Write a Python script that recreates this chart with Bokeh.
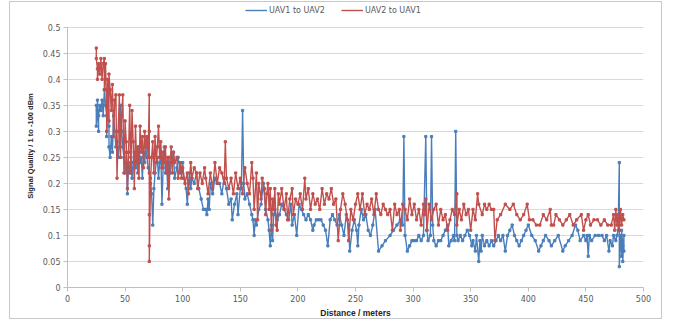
from bokeh.plotting import figure
from bokeh.models import Legend, LegendItem, FixedTicker, Range1d
from bokeh.embed import file_html
from bokeh.resources import INLINE

# ---- data ----
blue_x = [25, 25, 26, 26, 27, 27, 28, 29, 30, 31, 32, 33, 34, 34, 35, 36, 36, 37, 38, 39,
          40, 41, 42, 43, 44, 45, 46, 47, 48, 49, 50, 51, 52, 53, 54, 55, 56, 57, 58, 59,
          60, 61, 62, 63, 64, 65, 66, 67, 68, 69, 70, 72, 73, 74, 75, 76, 77, 78, 79, 80,
          81, 82, 83, 84, 85, 86, 87, 88, 89, 90, 92, 93, 95, 96, 98, 100, 101, 103, 104, 105,
          106, 107, 108, 110, 112, 114, 116, 118, 120, 121, 122, 123, 124, 126, 128, 130, 132, 134, 136, 138,
          140, 142, 143, 145, 147, 148, 150, 151, 152, 153, 154, 156, 158, 160, 161, 162, 163, 164, 166, 168,
          170, 172, 174, 175, 176, 177, 178, 179, 180, 182, 184, 186, 188, 190, 192, 194, 195, 197, 199, 201,
          203, 205, 207, 209, 211, 213, 214, 216, 218, 220, 222, 224, 226, 228, 230, 232, 234, 236, 238, 240,
          242, 244, 245, 247, 249, 251, 252, 253, 255, 257, 259, 261, 263, 265, 267, 270, 273, 276, 280, 283,
          286, 289, 291, 292, 293, 295, 297, 299, 301, 303, 305, 307, 309, 311, 312, 313, 315, 316, 317, 318,
          320, 322, 324, 326, 328, 330, 331, 333, 335, 336, 337, 338, 339, 341, 343, 345, 347, 349, 351, 352,
          354, 355, 357, 358, 359, 360, 362, 364, 366, 368, 370, 372, 374, 376, 378, 380, 382, 384, 386, 388,
          390, 392, 394, 396, 398, 400, 403, 406, 409, 411, 413, 415, 418, 420, 423, 426, 430, 432, 435, 438,
          441, 443, 445, 448, 450, 451, 452, 453, 455, 458, 461, 464, 466, 468, 470, 471, 473, 474, 476, 477,
          478, 479, 479, 480, 481, 481, 482, 482, 483, 483]
blue_y = [0.35, 0.31, 0.34, 0.36, 0.30, 0.33, 0.35, 0.34, 0.36, 0.33, 0.38, 0.35, 0.33, 0.29, 0.37, 0.31, 0.27, 0.25, 0.29, 0.26,
          0.33, 0.30, 0.27, 0.28, 0.25, 0.27, 0.35, 0.30, 0.27, 0.25, 0.22, 0.26, 0.18, 0.24, 0.22, 0.25, 0.21, 0.24, 0.26, 0.23,
          0.25, 0.22, 0.27, 0.24, 0.25, 0.21, 0.26, 0.24, 0.27, 0.25, 0.23, 0.21, 0.18, 0.12, 0.19, 0.22, 0.24, 0.25, 0.21, 0.24,
          0.26, 0.16, 0.23, 0.27, 0.22, 0.24, 0.19, 0.25, 0.22, 0.24, 0.26, 0.21, 0.23, 0.25, 0.22, 0.24, 0.21, 0.19, 0.16, 0.20,
          0.22, 0.19, 0.21, 0.20, 0.22, 0.19, 0.17, 0.15, 0.15, 0.14, 0.17, 0.15, 0.20, 0.18, 0.21, 0.20, 0.20, 0.18, 0.21, 0.19,
          0.16, 0.17, 0.13, 0.16, 0.18, 0.14, 0.19, 0.20, 0.34, 0.20, 0.17, 0.18, 0.16, 0.14, 0.13, 0.10, 0.13, 0.12, 0.15, 0.16,
          0.20, 0.15, 0.13, 0.11, 0.08, 0.12, 0.09, 0.14, 0.15, 0.13, 0.14, 0.16, 0.15, 0.14, 0.13, 0.16, 0.12, 0.14, 0.10, 0.16,
          0.15, 0.14, 0.13, 0.14, 0.13, 0.11, 0.12, 0.13, 0.13, 0.13, 0.12, 0.11, 0.08, 0.13, 0.14, 0.13, 0.12, 0.14, 0.12, 0.10,
          0.14, 0.12, 0.07, 0.11, 0.13, 0.11, 0.08, 0.12, 0.15, 0.13, 0.14, 0.11, 0.10, 0.12, 0.15, 0.07, 0.08, 0.09, 0.10, 0.11,
          0.12, 0.13, 0.12, 0.29, 0.10, 0.07, 0.08, 0.09, 0.09, 0.09, 0.10, 0.09, 0.10, 0.29, 0.11, 0.09, 0.10, 0.29, 0.12, 0.09,
          0.08, 0.09, 0.09, 0.10, 0.11, 0.12, 0.08, 0.09, 0.10, 0.09, 0.30, 0.10, 0.09, 0.10, 0.09, 0.10, 0.11, 0.10, 0.08, 0.09,
          0.07, 0.10, 0.05, 0.09, 0.07, 0.10, 0.08, 0.09, 0.08, 0.09, 0.08, 0.09, 0.10, 0.09, 0.10, 0.07, 0.10, 0.11, 0.12, 0.10,
          0.09, 0.08, 0.09, 0.10, 0.11, 0.12, 0.10, 0.09, 0.07, 0.08, 0.09, 0.10, 0.09, 0.08, 0.09, 0.10, 0.07, 0.08, 0.09, 0.10,
          0.12, 0.11, 0.09, 0.10, 0.09, 0.10, 0.06, 0.10, 0.09, 0.10, 0.10, 0.10, 0.09, 0.10, 0.07, 0.09, 0.08, 0.10, 0.09, 0.10,
          0.11, 0.24, 0.04, 0.10, 0.06, 0.11, 0.08, 0.05, 0.10, 0.07]

red_x = [25, 25, 26, 26, 27, 28, 29, 30, 31, 32, 32, 33, 34, 34, 35, 36, 36, 37, 38, 39,
         40, 41, 42, 43, 44, 45, 46, 47, 48, 49, 50, 51, 52, 53, 54, 55, 56, 57, 58, 59,
         60, 61, 62, 63, 64, 65, 66, 67, 68, 69, 70, 71, 71, 71, 71, 71, 71, 72, 73, 74,
         75, 76, 77, 78, 79, 80, 81, 82, 83, 84, 85, 86, 87, 88, 89, 90, 91, 92, 93, 95,
         96, 98, 99, 100, 102, 104, 105, 107, 108, 110, 112, 113, 115, 117, 119, 120, 122, 124, 126, 128,
         130, 132, 134, 136, 137, 138, 140, 142, 144, 146, 148, 150, 152, 154, 156, 158, 160, 161, 162, 164,
         165, 166, 168, 169, 171, 172, 173, 174, 175, 176, 177, 178, 179, 180, 181, 182, 183, 184, 186, 188,
         190, 191, 193, 195, 196, 198, 200, 202, 204, 206, 207, 209, 211, 213, 215, 217, 219, 221, 223, 225,
         227, 229, 231, 233, 235, 237, 239, 241, 243, 244, 246, 248, 250, 252, 254, 256, 258, 260, 262, 264,
         266, 268, 270, 272, 274, 276, 278, 280, 282, 284, 286, 288, 289, 291, 293, 295, 297, 299, 301, 303,
         305, 307, 309, 310, 311, 312, 314, 316, 318, 320, 322, 324, 326, 328, 330, 332, 334, 336, 338, 338,
         340, 342, 344, 346, 348, 350, 352, 354, 356, 357, 360, 362, 364, 366, 368, 370, 371, 373, 376, 380,
         384, 387, 390, 393, 396, 399, 401, 404, 407, 410, 413, 416, 419, 420, 422, 424, 427, 430, 433, 436,
         439, 442, 446, 448, 450, 452, 454, 457, 460, 463, 466, 469, 472, 474, 475, 476, 477, 478, 479, 480,
         481, 482, 483]
red_y = [0.46, 0.44, 0.42, 0.40, 0.43, 0.41, 0.44, 0.40, 0.43, 0.44, 0.38, 0.43, 0.35, 0.30, 0.40, 0.32, 0.41, 0.38, 0.34, 0.39,
         0.29, 0.36, 0.37, 0.21, 0.30, 0.37, 0.25, 0.33, 0.37, 0.22, 0.32, 0.28, 0.19, 0.26, 0.35, 0.22, 0.34, 0.28, 0.19, 0.31,
         0.24, 0.27, 0.21, 0.31, 0.26, 0.29, 0.23, 0.30, 0.27, 0.29, 0.25, 0.37, 0.30, 0.22, 0.14, 0.08, 0.05, 0.20, 0.25, 0.28,
         0.22, 0.29, 0.24, 0.27, 0.31, 0.25, 0.28, 0.23, 0.26, 0.24, 0.27, 0.22, 0.25, 0.17, 0.24, 0.27, 0.22, 0.26, 0.24, 0.25,
         0.21, 0.24, 0.21, 0.23, 0.20, 0.22, 0.18, 0.24, 0.21, 0.23, 0.22, 0.19, 0.22, 0.20, 0.23, 0.21, 0.18, 0.22, 0.19, 0.24,
         0.20, 0.23, 0.22, 0.20, 0.28, 0.21, 0.19, 0.21, 0.18, 0.22, 0.19, 0.21, 0.18, 0.23, 0.20, 0.18, 0.24, 0.21, 0.15, 0.22,
         0.13, 0.20, 0.17, 0.21, 0.19, 0.14, 0.18, 0.20, 0.15, 0.19, 0.11, 0.17, 0.15, 0.19, 0.12, 0.11, 0.18, 0.16, 0.19, 0.15,
         0.18, 0.13, 0.17, 0.19, 0.14, 0.17, 0.16, 0.18, 0.15, 0.21, 0.17, 0.19, 0.15, 0.18, 0.16, 0.17, 0.15, 0.19, 0.16, 0.18,
         0.17, 0.19, 0.16, 0.17, 0.09, 0.15, 0.18, 0.16, 0.13, 0.09, 0.15, 0.13, 0.16, 0.18, 0.15, 0.18, 0.14, 0.16, 0.15, 0.17,
         0.14, 0.18, 0.15, 0.14, 0.16, 0.15, 0.14, 0.15, 0.11, 0.16, 0.14, 0.15, 0.11, 0.16, 0.15, 0.13, 0.17, 0.14, 0.16, 0.13,
         0.15, 0.12, 0.16, 0.14, 0.17, 0.11, 0.16, 0.13, 0.15, 0.16, 0.12, 0.15, 0.13, 0.14, 0.11, 0.13, 0.15, 0.14, 0.18, 0.12,
         0.15, 0.13, 0.16, 0.14, 0.15, 0.11, 0.15, 0.13, 0.18, 0.16, 0.14, 0.16, 0.15, 0.16, 0.15, 0.15, 0.09, 0.13, 0.14, 0.16,
         0.15, 0.16, 0.14, 0.13, 0.14, 0.16, 0.13, 0.13, 0.12, 0.12, 0.14, 0.13, 0.15, 0.12, 0.12, 0.14, 0.13, 0.12, 0.13, 0.14,
         0.12, 0.13, 0.14, 0.11, 0.13, 0.14, 0.12, 0.13, 0.13, 0.12, 0.13, 0.12, 0.12, 0.14, 0.11, 0.15, 0.12, 0.14, 0.11, 0.15,
         0.12, 0.14, 0.13]

series_names = ["UAV1 to UAV2", "UAV2 to UAV1"]
x_ticks = [0, 50, 100, 150, 200, 250, 300, 350, 400, 450, 500]
y_ticks = [0, 0.05, 0.1, 0.15, 0.2, 0.25, 0.3, 0.35, 0.4, 0.45, 0.5]
y_tick_labels = ["0", "0.05", "0.1", "0.15", "0.2", "0.25", "0.3", "0.35", "0.4", "0.45", "0.5"]

BLUE = "#4a7ebb"
RED = "#c0504d"
TXT = "#595959"

# Chart box: outer grey border at x=9..663, y=1..320 of the page.
# The frame reaches up to the legend row; the y axis is bounded to 0..0.5.
p = figure(width=653, height=318, output_backend="svg", toolbar_location=None,
           x_range=Range1d(0, 500), y_range=Range1d(0, 0.5437),
           min_border_left=57, min_border_right=20, min_border_top=2, min_border_bottom=30,
           margin=(1, 0, 0, 9),
           styles={"border": "1px solid #c8c8c8"})
p.outline_line_color = None
p.background_fill_color = "white"
p.border_fill_color = "white"

rb = p.line(blue_x, blue_y, color=BLUE, line_width=1.4)
p.scatter(blue_x, blue_y, marker="square", size=2.2, color=BLUE)
rr = p.line(red_x, red_y, color=RED, line_width=1.4)
p.scatter(red_x, red_y, marker="square", size=2.2, color=RED)

# axes
p.xaxis.ticker = FixedTicker(ticks=x_ticks)
p.yaxis.ticker = FixedTicker(ticks=y_ticks)
p.yaxis.bounds = (0, 0.5)
p.yaxis.major_label_overrides = {t: l for t, l in zip(y_ticks, y_tick_labels)}
for ax in (p.xaxis[0], p.yaxis[0]):
    ax.axis_line_color = "#bfbfbf"
    ax.major_tick_line_color = "#bfbfbf"
    ax.minor_tick_line_color = None
    ax.major_tick_in = 0
    ax.major_tick_out = 4
    ax.major_label_text_font = "DejaVu Sans"
    ax.major_label_text_font_size = "8px"
    ax.major_label_text_color = TXT
    ax.major_label_standoff = 3
    ax.axis_label_text_font = "Liberation Sans"
    ax.axis_label_text_font_style = "bold"
    ax.axis_label_text_color = "#262626"
p.xaxis.axis_label = "Distance / meters"
p.xaxis.axis_label_text_font_size = "8.5px"
p.xaxis.axis_label_standoff = 3
p.yaxis.axis_label = "Signal Quality / 1 to -100 dBm"
p.yaxis.axis_label_text_font_size = "7.5px"
p.yaxis.axis_label_standoff = 5

p.xgrid.grid_line_color = None
p.ygrid.grid_line_color = "#d9d9d9"
p.ygrid.grid_line_width = 1

legend = Legend(items=[LegendItem(label=series_names[0], renderers=[rb]),
                       LegendItem(label=series_names[1], renderers=[rr])],
                orientation="horizontal", location=(175, 268),
                label_text_font="DejaVu Sans", label_text_font_size="8px",
                label_text_color=TXT, glyph_width=22, glyph_height=8,
                label_height=12, label_standoff=2, spacing=16, padding=3, margin=0,
                border_line_alpha=0, background_fill_alpha=0)
p.add_layout(legend, "center")

open("out.html", "w").write(file_html(p, INLINE))
